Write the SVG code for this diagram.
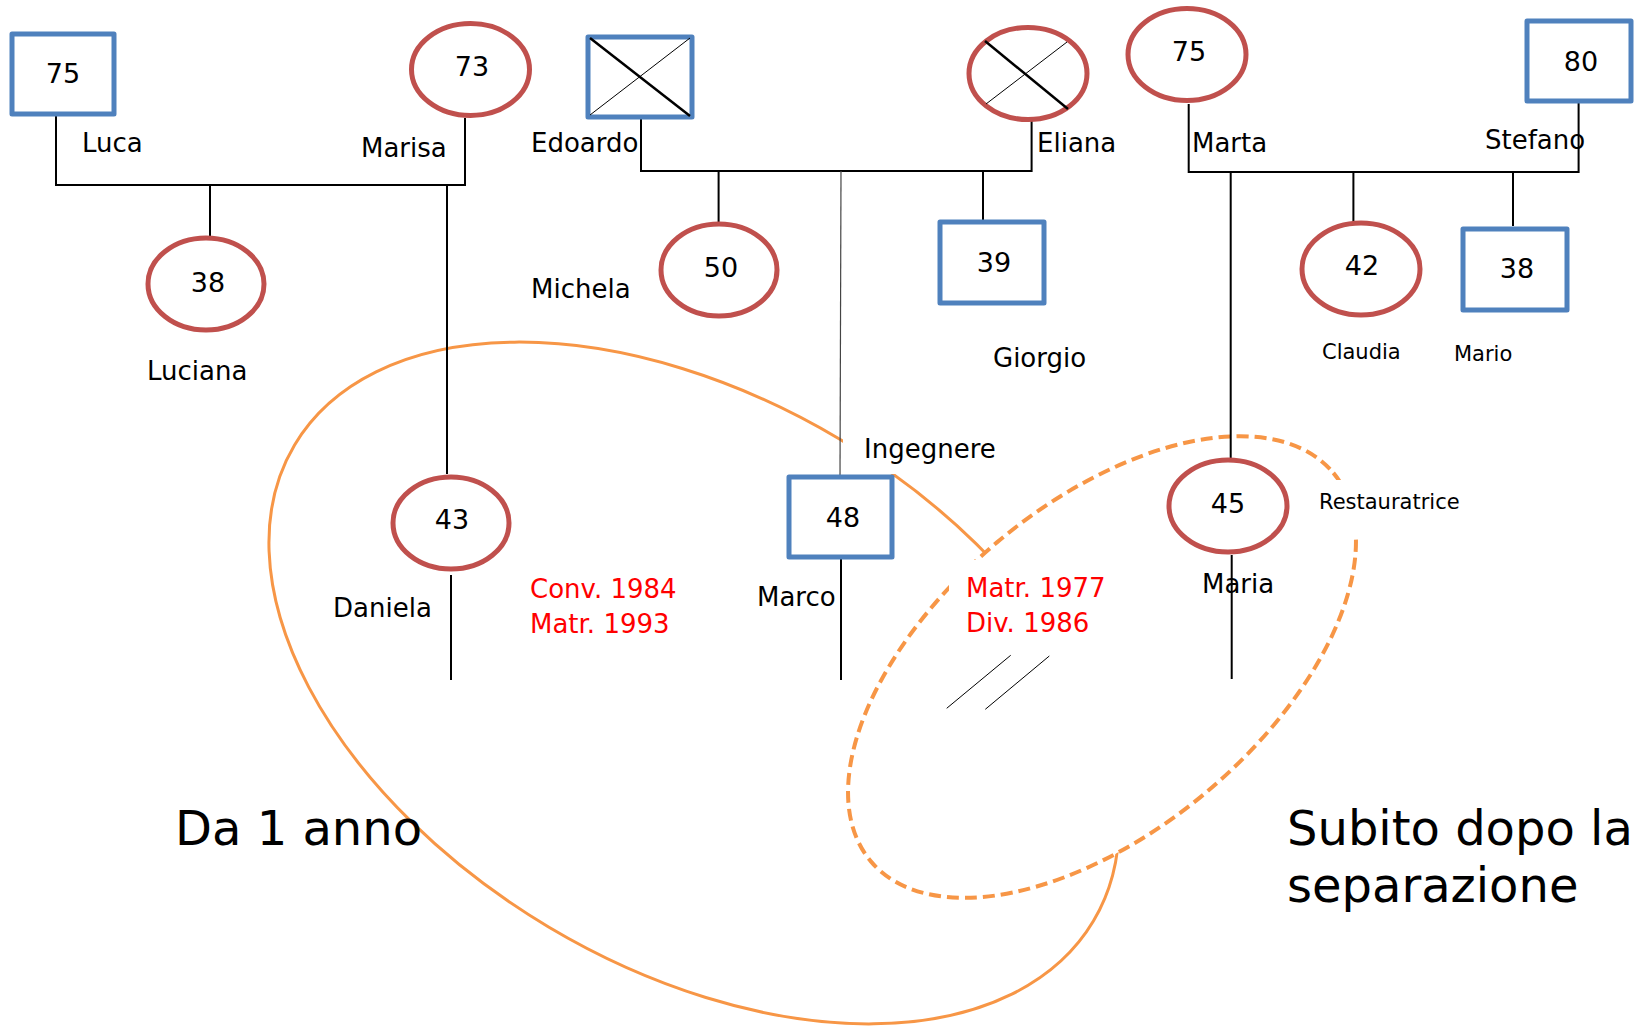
<svg xmlns="http://www.w3.org/2000/svg" width="1639" height="1027" viewBox="0 0 1639 1027">
<style>
.m{fill:#fff;stroke:#4F81BD;stroke-width:5;stroke-linejoin:round}
.f{fill:#fff;stroke:#C0504D;stroke-width:5}
.c{fill:none;stroke:#000;stroke-width:2}
.t{font-family:"DejaVu Sans","Liberation Sans",sans-serif;fill:#000}
.n{font-size:27px;text-anchor:middle}
.l{font-size:26px}
.s{font-size:21px}
.r{font-family:"DejaVu Sans","Liberation Sans",sans-serif;font-size:26px;fill:#FF0000}
.big{font-family:"DejaVu Sans","Liberation Sans",sans-serif;font-size:48px;fill:#000}
.hide{fill:#fff;stroke:none}
</style>
<rect width="1639" height="1027" fill="#fff"/>
<g id="groups">
<ellipse cx="694" cy="683" rx="465" ry="284" transform="rotate(30.8 694 683)" fill="none" stroke="#F79646" stroke-width="3"/>
<rect class="hide" x="843" y="428" width="178" height="46"/>
<ellipse cx="1102" cy="667" rx="302" ry="163" transform="rotate(-40 1102 667)" fill="#fff" stroke="#F79646" stroke-width="4" stroke-dasharray="12 6"/>
<rect class="hide" x="949" y="560" width="175" height="88"/>
<rect class="hide" x="1312" y="480" width="170" height="54"/>
</g>
<g id="connectors">
<path class="c" d="M56 116 V185 H465 V118"/>
<path class="c" d="M210 185 V237"/>
<path class="c" d="M447 185 V474"/>
<path class="c" d="M451 575 V680"/>
<path class="c" d="M641 118 V171 H1031.6 V119"/>
<path class="c" d="M718.6 171 V222"/>
<path class="c" d="M983 171 V221"/>
<path d="M841 171 L840 477" fill="none" stroke="#444" stroke-width="1.2"/>
<path class="c" d="M841 557 V680"/>
<path class="c" d="M1188.7 104 V172 H1578.6 V102"/>
<path class="c" d="M1353.4 172 V222"/>
<path class="c" d="M1513 172 V226"/>
<path class="c" d="M1230.7 172 V459"/>
<path class="c" d="M1231.7 555 V679"/>
<path d="M946.7 708.3 L1010.7 655.3 M985.3 709.3 L1049.3 656" fill="none" stroke="#000" stroke-width="1"/>
</g>
<g id="luca"><rect class="m" x="12" y="34" width="102" height="80"/><text class="t n" x="63" y="83">75</text><text class="t l" x="82" y="152">Luca</text></g>
<g id="marisa"><ellipse class="f" cx="470.5" cy="69.5" rx="59" ry="46"/><text class="t n" x="472" y="76">73</text><text class="t l" x="361" y="157">Marisa</text></g>
<g id="luciana"><ellipse class="f" cx="206" cy="284" rx="58" ry="46"/><text class="t n" x="208" y="292">38</text><text class="t l" x="147" y="380">Luciana</text></g>
<g id="edoardo"><rect class="m" x="588" y="37" width="104" height="80"/><path d="M590 38 L690 116" stroke="#000" stroke-width="2.5"/><path d="M590 115 L690 38" stroke="#000" stroke-width="1"/><text class="t l" x="531" y="152">Edoardo</text></g>
<g id="eliana"><ellipse class="f" cx="1028" cy="73.5" rx="59" ry="46"/><path d="M985 41 L1068 109" stroke="#000" stroke-width="2.5"/><path d="M986 104 L1067 42" stroke="#000" stroke-width="1"/><text class="t l" x="1037" y="152">Eliana</text></g>
<g id="michela"><ellipse class="f" cx="719" cy="270" rx="58" ry="46"/><text class="t n" x="721" y="277">50</text><text class="t l" x="531" y="298">Michela</text></g>
<g id="giorgio"><rect class="m" x="940" y="222" width="104" height="81"/><text class="t n" x="994" y="272">39</text><text class="t l" x="993" y="367">Giorgio</text></g>
<g id="marta"><ellipse class="f" cx="1187" cy="54.5" rx="59" ry="46"/><text class="t n" x="1189" y="61">75</text><text class="t l" x="1192" y="152">Marta</text></g>
<g id="stefano"><rect class="m" x="1527" y="21" width="104" height="80"/><text class="t n" x="1581" y="71">80</text><text class="t l" x="1485" y="149">Stefano</text></g>
<g id="claudia"><ellipse class="f" cx="1361" cy="269" rx="59" ry="46"/><text class="t n" x="1362" y="275">42</text><text class="t s" x="1322" y="359">Claudia</text></g>
<g id="mario"><rect class="m" x="1463" y="229" width="104" height="81"/><text class="t n" x="1517" y="278">38</text><text class="t s" x="1454" y="361">Mario</text></g>
<g id="daniela"><ellipse class="f" cx="451" cy="523" rx="58" ry="46"/><text class="t n" x="452" y="529">43</text><text class="t l" x="333" y="617">Daniela</text></g>
<g id="marco"><rect class="m" x="789" y="477" width="103" height="80"/><text class="t n" x="843" y="527">48</text><text class="t l" x="757" y="606">Marco</text><text class="t l" x="864" y="458">Ingegnere</text></g>
<g id="maria"><ellipse class="f" cx="1228" cy="506" rx="59" ry="46"/><text class="t n" x="1228" y="513">45</text><text class="t l" x="1202" y="593">Maria</text><text class="t s" x="1319" y="509">Restauratrice</text></g>
<g id="labels">
<text class="r" x="530" y="598">Conv. 1984</text>
<text class="r" x="530" y="633">Matr. 1993</text>
<text class="r" x="966" y="597">Matr. 1977</text>
<text class="r" x="966" y="632">Div. 1986</text>
<text class="big" x="175" y="845">Da 1 anno</text>
<text class="big" x="1287" y="845">Subito dopo la</text>
<text class="big" x="1287" y="902">separazione</text>
</g>
</svg>
